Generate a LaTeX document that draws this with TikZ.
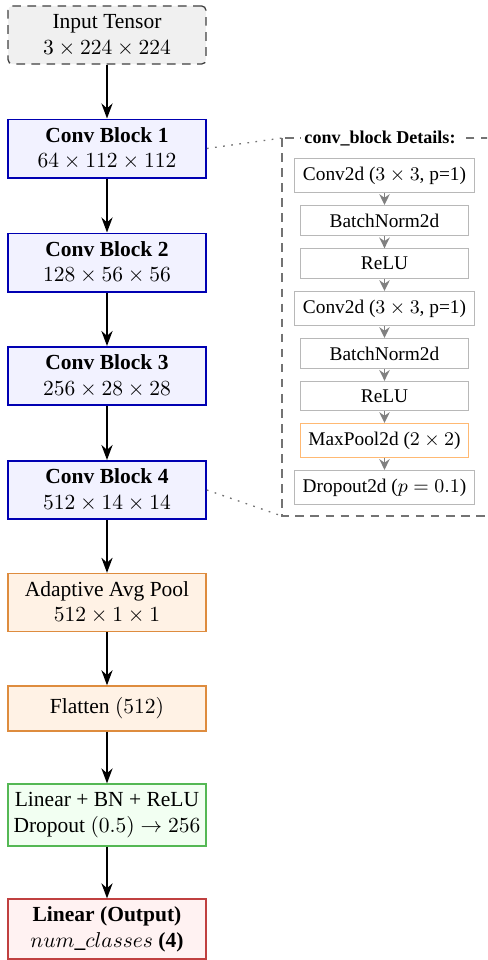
\documentclass[tikz,border=0pt]{standalone}
\usepackage{fontspec}
\setmainfont{Liberation Serif}
\usetikzlibrary{arrows.meta}

\definecolor{poolline}{RGB}{222,140,62}
\definecolor{denseline}{RGB}{84,184,84}
\definecolor{outline}{RGB}{192,64,64}

\tikzset{
  base/.style={draw, align=center, font=\fontsize{10}{12}\selectfont,
    minimum width=92pt, minimum height=27pt, inner sep=3pt},
  inputbox/.style={base, draw=black!75, fill=black!6, rounded corners=2pt,
    line width=0.6pt, dash pattern=on 4pt off 3pt},
  convbox/.style={base, draw=blue!70!black, fill=blue!5, line width=0.9pt},
  poolbox/.style={base, draw=poolline, fill=orange!10, line width=0.6pt},
  densebox/.style={base, draw=denseline, fill=green!5, line width=0.6pt},
  outbox/.style={base, draw=outline, fill=red!5, line width=0.6pt},
  layerbox/.style={draw=black!28, fill=white, line width=0.5pt, align=center,
    font=\fontsize{9}{10.8}\selectfont, minimum width=77.7pt,
    inner xsep=3.8pt, inner ysep=3.8pt},
  poolLayer/.style={layerbox, draw=orange!55},
  flow/.style={-{Stealth[length=7pt,width=5.2pt]}, line width=0.8pt, black},
  subflow/.style={-{Stealth[length=5pt,width=4.8pt]}, line width=0.9pt, black!50},
  link/.style={black!55, line width=0.6pt, dash pattern=on 0.8pt off 3pt},
  panel/.style={draw=black!55, line width=0.5pt, dash pattern=on 4pt off 3pt}
}

\begin{document}
\begin{tikzpicture}[x=0.465pt, y=-0.465pt]
  \useasboundingbox (0,0) rectangle (487,960);
  \clip (0,0) rectangle (487,960);

  % main pipeline
  \node[inputbox] (in) at (107,35) {Input Tensor\\ $3 \times 224 \times 224$};
  \node[convbox] (c1) at (107,148.5) {\textbf{Conv Block 1}\\ $64 \times 112 \times 112$};
  \node[convbox] (c2) at (107,262.5) {\textbf{Conv Block 2}\\ $128 \times 56 \times 56$};
  \node[convbox] (c3) at (107,376) {\textbf{Conv Block 3}\\ $256 \times 28 \times 28$};
  \node[convbox] (c4) at (107,490) {\textbf{Conv Block 4}\\ $512 \times 14 \times 14$};
  \node[poolbox] (gap) at (107,602.5) {Adaptive Avg Pool\\ $512 \times 1 \times 1$};
  \node[poolbox, minimum height=21pt] (flat) at (107,708.5) {Flatten $(512)$};
  \node[densebox, minimum height=28.8pt, inner xsep=2.5pt] (fc) at (107,815)
    {Linear + BN + ReLU\\ Dropout $(0.5) \to 256$};
  \node[outbox, minimum height=27.9pt, font=\fontsize{10}{12}\selectfont\bfseries] (out) at (107,929)
    {Linear (Output)\\ $num\_classes$ (4)};

  \draw[flow] (in) -- (c1);
  \draw[flow] (c1) -- (c2);
  \draw[flow] (c2) -- (c3);
  \draw[flow] (c3) -- (c4);
  \draw[flow] (c4) -- (gap);
  \draw[flow] (gap) -- (flat);
  \draw[flow] (flat) -- (fc);
  \draw[flow] (fc) -- (out);

  % conv_block detail panel
  \coordinate (pnw) at (282,138);
  \coordinate (psw) at (282,516);
  \coordinate (pse) at (497,516);
  \draw[panel] (pnw) rectangle (pse);
  \node[fill=white, inner sep=1.5pt, font=\fontsize{8.4}{10}\selectfont\bfseries]
    (ptitle) at (380,138) {conv\_block Details:};

  \node[layerbox] (l1) at (384.5,175.5) {Conv2d ($3 \times 3$, p=1)};
  \node[layerbox] (l2) at (384.5,220.5) {BatchNorm2d};
  \node[layerbox] (l3) at (384.5,263.5) {ReLU};
  \node[layerbox] (l4) at (384.5,308.5) {Conv2d ($3 \times 3$, p=1)};
  \node[layerbox] (l5) at (384.5,353.5) {BatchNorm2d};
  \node[layerbox] (l6) at (384.5,396) {ReLU};
  \node[poolLayer] (l7) at (384.5,440.5) {MaxPool2d ($2 \times 2$)};
  \node[layerbox] (l8) at (384.5,487.4) {Dropout2d ($p = 0.1$)};

  \draw[subflow] (l1) -- (l2);
  \draw[subflow] (l2) -- (l3);
  \draw[subflow] (l3) -- (l4);
  \draw[subflow] (l4) -- (l5);
  \draw[subflow] (l5) -- (l6);
  \draw[subflow] (l6) -- (l7);
  \draw[subflow] (l7) -- (l8);

  % links from the conv blocks to the panel
  \draw[link] (c1.east) -- (pnw);
  \draw[link] (c4.east) -- (psw);
\end{tikzpicture}
\end{document}
